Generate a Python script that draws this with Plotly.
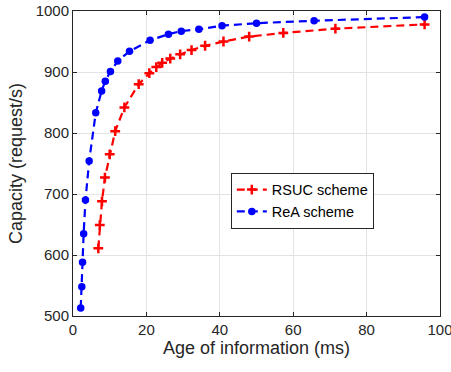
import plotly.graph_objects as go

rsuc_x = [6.9, 7.3, 7.9, 8.7, 10.0, 11.5, 14.0, 17.9, 20.8, 22.7, 24.3, 26.5, 29.2, 32.3, 36.0, 41.0, 48.0, 57.3, 71.5, 95.8]
rsuc_y = [611, 649, 688, 727, 765, 803, 842, 880, 898, 908, 915, 922, 929, 936, 943, 950, 958, 964, 971, 978]

rea_x = [2.1, 2.4, 2.6, 2.9, 3.4, 4.4, 6.2, 7.8, 8.8, 10.2, 12.2, 15.4, 21.0, 26.0, 29.5, 34.3, 40.6, 50.0, 65.7, 95.8]
rea_y = [513, 548, 588, 635, 690, 754, 833, 869, 885, 901, 918, 934, 952, 962, 967, 970, 976, 980, 984, 990]

x_ticks = [0, 20, 40, 60, 80, 100]
y_ticks = [500, 600, 700, 800, 900, 1000]

fig = go.Figure()
fig.add_trace(go.Scatter(
    x=rsuc_x, y=rsuc_y, name="RSUC scheme", mode="lines+markers",
    line=dict(color="#ff0000", width=2.2, dash="8px,5px"),
    marker=dict(symbol="cross-thin", size=7, color="#ff0000",
                line=dict(color="#ff0000", width=2.5)),
))
fig.add_trace(go.Scatter(
    x=rea_x, y=rea_y, name="ReA scheme", mode="lines+markers",
    line=dict(color="#0000ff", width=2.2, dash="8px,5px"),
    marker=dict(symbol="circle", size=7.5, color="#0000ff"),
))

axis_common = dict(
    showgrid=True, gridcolor="#e3e3e3", gridwidth=1,
    showline=True, linecolor="#262626", linewidth=1, mirror="ticks",
    ticks="inside", ticklen=4, tickcolor="#262626",
    tickfont=dict(family="Liberation Sans, Arial", size=15, color="#262626"),
    zeroline=False, automargin=False, ticklabeloverflow="allow",
)

fig.update_layout(
    width=451, height=372,
    margin=dict(l=73, r=11, t=11, b=56),
    paper_bgcolor="white", plot_bgcolor="white",
    font=dict(family="Liberation Sans, Arial", color="#262626"),
    xaxis=dict(range=[0, 100], tickvals=x_ticks,
               title=dict(text="Age of information (ms)", font=dict(size=18), standoff=4),
               **axis_common),
    yaxis=dict(range=[500, 1000], tickvals=y_ticks,
               title=dict(text="Capacity (request/s)", font=dict(size=18), standoff=8),
               **axis_common),
    legend=dict(x=0.43, y=0.47, xanchor="left", yanchor="top",
                bgcolor="white", bordercolor="#262626", borderwidth=1,
                font=dict(size=14.5, color="#000000"),
                itemwidth=30, tracegroupgap=0),
    showlegend=True,
)

fig.write_html("out.html")
